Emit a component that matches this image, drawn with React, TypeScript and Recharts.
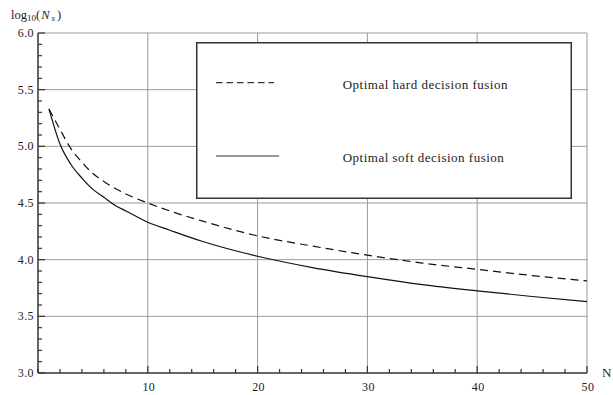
import { LineChart, Line, XAxis, YAxis, CartesianGrid, Legend } from 'recharts';

// values
const nValues = [1, 2, 3, 4, 5, 6, 7, 8, 10, 12, 15, 20, 25, 30, 35, 40, 45, 50];
const hardFusion = [5.33, 5.15, 4.98, 4.86, 4.76, 4.69, 4.63, 4.58, 4.5, 4.43, 4.34, 4.21, 4.12, 4.04, 3.97, 3.915, 3.86, 3.813];
const softFusion = [5.33, 5.02, 4.84, 4.72, 4.62, 4.55, 4.48, 4.43, 4.33, 4.26, 4.16, 4.03, 3.93, 3.85, 3.78, 3.725, 3.675, 3.63];

const seriesNames = ['Optimal hard decision fusion', 'Optimal soft decision fusion'];
const xLabels = [10, 20, 30, 40, 50];
const yLabels = ['3.0', '3.5', '4.0', '4.5', '5.0', '5.5', '6.0'];

const data = nValues.map((n, i) => ({ n, hard: hardFusion[i], soft: softFusion[i] }));

const xTicks = Array.from({ length: 26 }, (_, i) => i * 2);
const yTicks = Array.from({ length: 31 }, (_, i) => Math.round(30 + i) / 10);

const FONT = '"Liberation Serif", "Times New Roman", serif';
const AXIS = '#333';

const YTick = (props: any) => {
  const { x, y, payload } = props;
  const label = yLabels.find((l) => Math.abs(Number(l) - payload.value) < 1e-6);
  return (
    <g>
      <line x1={x} y1={y} x2={x + (label ? 7 : 4)} y2={y} stroke={AXIS} strokeWidth={1.2} />
      {label && (
        <text x={x - 4} y={y} textAnchor="end" dominantBaseline="central" fontSize={12} letterSpacing={0.4} fill="#222" fontFamily={FONT}>
          {label}
        </text>
      )}
    </g>
  );
};

const XTick = (props: any) => {
  const { x, y, payload } = props;
  const isLabel = xLabels.includes(payload.value);
  return (
    <g>
      <line x1={x} y1={y} x2={x} y2={y - (isLabel ? 7 : 4)} stroke={AXIS} strokeWidth={1.2} />
      {isLabel && (
        <text x={x + 1} y={y + 18} textAnchor="middle" fontSize={12} letterSpacing={0.4} fill="#222" fontFamily={FONT}>
          {payload.value}
        </text>
      )}
    </g>
  );
};

const LegendBox = () => (
  <svg width={376} height={157} style={{ display: 'block' }}>
    <rect x={0.75} y={0.75} width={374.5} height={155.5} fill="#fff" stroke={AXIS} strokeWidth={1.5} />
    <line x1={20} y1={40.6} x2={78} y2={40.6} stroke="#333" strokeWidth={1.2} strokeDasharray="6.5 4" />
    <line x1={20} y1={114} x2={83} y2={114} stroke="#333" strokeWidth={1.2} />
    <text x={146.7} y={46.5} fontSize={13} letterSpacing={0.5} fill="#222" fontFamily={FONT}>
      {seriesNames[0]}
    </text>
    <text x={146.7} y={119.5} fontSize={13} letterSpacing={0.5} fill="#222" fontFamily={FONT}>
      {seriesNames[1]}
    </text>
  </svg>
);

export default function App() {
  return (
    <div style={{ position: 'absolute', left: 0, top: 0, width: 613, height: 395, background: '#fff' }}>
      <LineChart width={613} height={395} data={data} margin={{ top: 33, right: 26, bottom: 0, left: 0 }}>
        <CartesianGrid
          stroke="#9a9a9a"
          strokeWidth={1}
          horizontalValues={[3.5, 4, 4.5, 5, 5.5, 6]}
          verticalValues={[10, 20, 30, 40, 50]}
        />
        <XAxis
          dataKey="n"
          type="number"
          domain={[0, 50]}
          ticks={xTicks}
          interval={0}
          height={22}
          tickSize={0}
          tickMargin={0}
          tickLine={false}
          axisLine={{ stroke: AXIS, strokeWidth: 1.5 }}
          tick={<XTick />}
        />
        <YAxis
          type="number"
          domain={[3, 6]}
          ticks={yTicks}
          interval={0}
          width={38}
          tickSize={0}
          tickMargin={0}
          tickLine={false}
          axisLine={{ stroke: AXIS, strokeWidth: 1.5 }}
          tick={<YTick />}
        />
        <Legend
          layout="horizontal"
          verticalAlign="middle"
          align="center"
          wrapperStyle={{ left: 196, top: 42, width: 376, height: 157 }}
          content={() => <LegendBox />}
        />
        <Line
          type="monotone"
          dataKey="hard"
          name={seriesNames[0]}
          stroke="#111"
          strokeWidth={1.2}
          strokeDasharray="8 5"
          dot={false}
          isAnimationActive={false}
        />
        <Line
          type="monotone"
          dataKey="soft"
          name={seriesNames[1]}
          stroke="#111"
          strokeWidth={1.2}
          dot={false}
          isAnimationActive={false}
        />
      </LineChart>
      <svg width={613} height={395} style={{ position: 'absolute', left: 0, top: 0, pointerEvents: 'none' }}>
        <text x={11} y={18.5} fontSize={12.5} fill="#222" fontFamily={FONT}>
          log
          <tspan fontSize={9} dy={2}>10</tspan>
          <tspan dy={-2}>(</tspan>
          <tspan fontStyle="italic" dx={1}>N</tspan>
          <tspan fontStyle="italic" fontSize={9} dy={2} dx={2}>s</tspan>
          <tspan dy={-2} dx={2}>)</tspan>
        </text>
        <text x={602} y={376.5} fontSize={13} fill="#222" fontFamily={FONT}>
          N
        </text>
      </svg>
    </div>
  );
}
